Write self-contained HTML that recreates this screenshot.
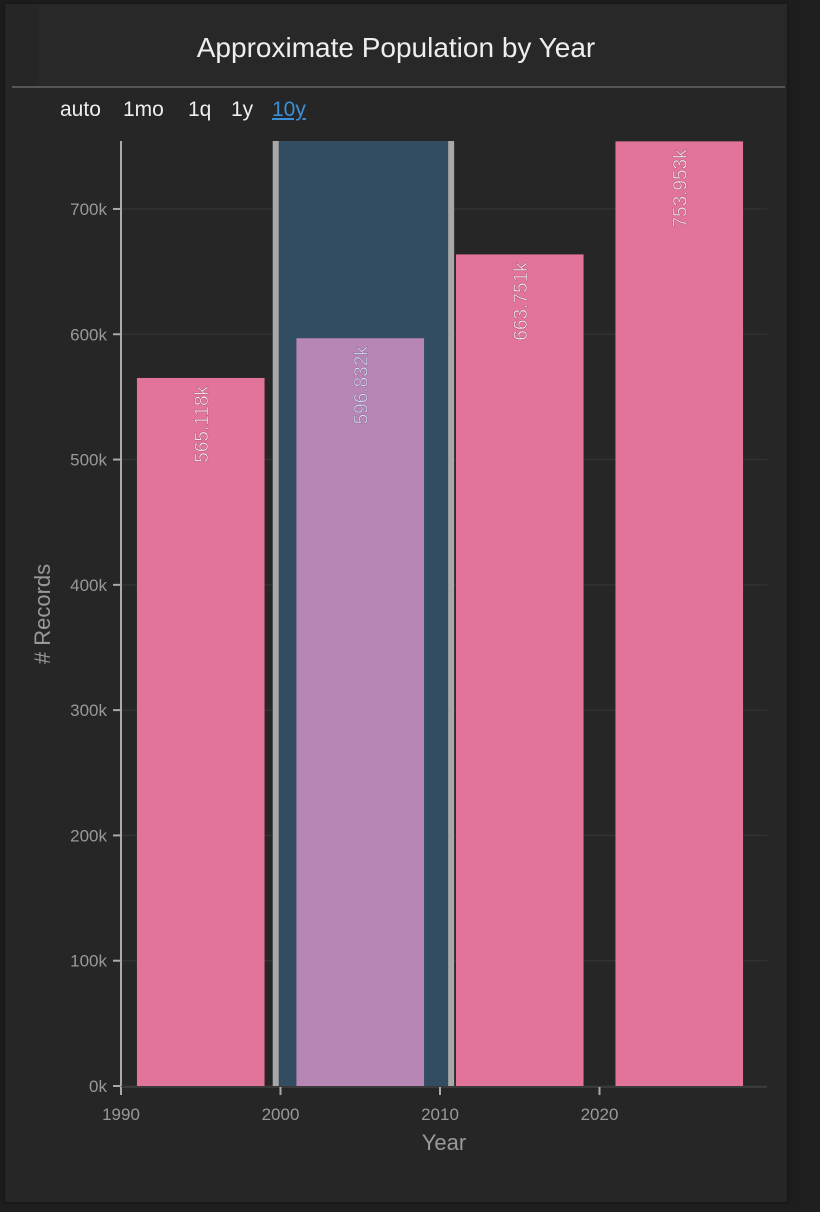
<!DOCTYPE html>
<html><head><meta charset="utf-8"><style>
html,body{margin:0;padding:0;background:#1e1e1e;width:820px;height:1212px;overflow:hidden;font-family:"Liberation Sans",sans-serif}
#panel{position:absolute;left:5px;top:4px;width:782px;height:1198px;background:#262626;box-shadow:0 0 4px #111}
#titlebox{position:absolute;left:33px;top:0;width:749px;height:82px;background:#282828}
#title{position:absolute;left:0;width:782px;top:28px;text-align:center;color:#eee;font-size:28px}
#rule{position:absolute;left:7px;top:82px;width:773px;height:2px;background:#555}
.opt{position:absolute;top:94px;color:#eee;font-size:21px}
</style></head><body>
<div id="panel">
<div id="titlebox"></div>
<div id="title">Approximate Population by Year</div>
<div id="rule"></div>
<span class="opt" style="left:55px">auto</span>
<span class="opt" style="left:118px">1mo</span>
<span class="opt" style="left:183px">1q</span>
<span class="opt" style="left:226px">1y</span>
<span class="opt" style="left:267px;color:#3a8fd9;text-decoration:underline">10y</span>
</div>
<svg id="chart" width="820" height="1212" style="position:absolute;left:0;top:0"></svg>
<script>
const years=[1990,2000,2010,2020];
const values=[565.118,596.832,663.751,753.953];
const labels=["565.118k","596.832k","663.751k","753.953k"];
const yTicks=[0,100,200,300,400,500,600,700];
const xTicks=[1990,2000,2010,2020];
const brush=[1999.7,2010.7];
const NS="http://www.w3.org/2000/svg";
const svg=document.getElementById('chart');
const x=v=>121+(v-1990)*15.95;
const y=v=>1086-v*1.2529;
function mk(t,a){const e=document.createElementNS(NS,t);for(const k in a)e.setAttribute(k,a[k]);svg.appendChild(e);return e;}
yTicks.forEach(t=>{
 const g=mk('line',{x1:121,x2:767,y1:y(t),y2:y(t),stroke:'#363636','stroke-width':1});
 
 
 const tk=mk('line',{x1:113,x2:121,y1:y(t),y2:y(t),stroke:'#aaa','stroke-width':2});
 
 
 const tx=mk('text',{x:107,y:y(t)+6,'text-anchor':'end',fill:'#999','font-size':17});
 tx.textContent=t+'k';
 
 
});
const bf=mk('rect',{x:x(brush[0]),y:141,width:x(brush[1])-x(brush[0]),height:945,fill:'#324d62'});


brush.forEach(b=>{
 const h=mk('rect',{x:x(b)-3,y:141,width:6,height:945,fill:'#a8a8a8'});
 
 
});
years.forEach((yr,i)=>{
 const inB=yr>=brush[0]&&yr+10<=brush[1]+1;
 const r=mk('rect',{x:x(yr+1),y:y(values[i]),width:x(yr+9)-x(yr+1),height:1086-y(values[i]),fill:inB?'#b886b4':'#e2739b'});
 
 
 const cx=x(yr+5)+7, ty=y(values[i])+8;
 const t=mk('text',{x:0,y:0,transform:`translate(${cx},${ty}) rotate(-90)`,'text-anchor':'end',fill:inB?'#cfe3f5':'#f4f4f4','font-size':19,stroke:inB?'#9a6a98':'#b8587c','stroke-width':0.6});
 t.textContent=labels[i];
 
 
});
const ya=mk('line',{x1:121,x2:121,y1:141,y2:1094,stroke:'#aaa','stroke-width':2});


const xa=mk('line',{x1:121,x2:767,y1:1087,y2:1087,stroke:'#3a3a3a','stroke-width':2});


xTicks.forEach(t=>{
 const l=mk('line',{x1:x(t),x2:x(t),y1:1087,y2:1095,stroke:'#aaa','stroke-width':2});
 
 
 const tx=mk('text',{x:x(t),y:1120,'text-anchor':'middle',fill:'#999','font-size':17});
 tx.textContent=t;
 
 
});
const xt=mk('text',{x:444,y:1150,'text-anchor':'middle',fill:'#999','font-size':22});
xt.textContent='Year';


const yt=mk('text',{x:0,y:0,transform:'translate(50,614) rotate(-90)','text-anchor':'middle',fill:'#999','font-size':22});
yt.textContent='# Records';


</script>
</body></html>
